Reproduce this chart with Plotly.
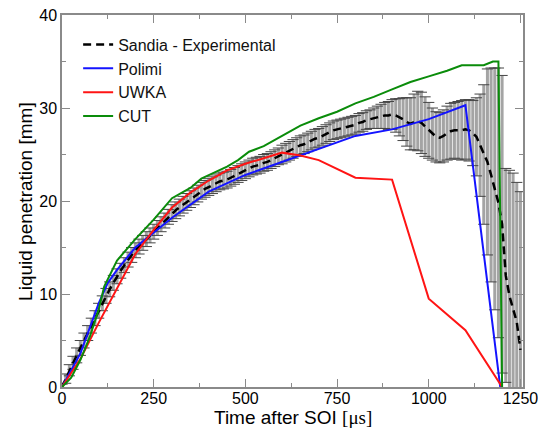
import plotly.graph_objects as go

# ---- Experimental (Sandia) ----
t_exp = [0, 10, 20, 30, 40, 50, 60, 70, 80, 90,
         100, 110, 120, 130, 140, 150, 160, 170, 180, 190,
         200, 210, 220, 230, 240, 250, 260, 270, 280, 290,
         300, 310, 320, 330, 340, 350, 360, 370, 380, 390,
         400, 410, 420, 430, 440, 450, 460, 470, 480, 490,
         500, 510, 520, 530, 540, 550, 560, 570, 580, 590,
         600, 610, 620, 630, 640, 650, 660, 670, 680, 690,
         700, 710, 720, 730, 740, 750, 760, 770, 780, 790,
         800, 810, 820, 830, 840, 850, 860, 870, 880, 890,
         900, 910, 920, 930, 940, 950, 960, 970, 980, 990,
         1000, 1010, 1020, 1030, 1040, 1050, 1060, 1070, 1080, 1090,
         1100, 1110, 1120, 1130, 1140, 1150, 1160, 1170, 1180, 1190,
         1200, 1210, 1220, 1230, 1240, 1250]
v_exp = [0.0, 0.9, 1.8, 2.6, 3.4, 4.2, 5.0, 5.8, 6.6, 7.4,
         8.2, 9.0, 9.8, 10.5, 11.2, 11.9, 12.5, 13.1, 13.7, 14.2,
         14.7, 15.1, 15.5, 15.9, 16.3, 16.7, 17.1, 17.5, 17.9, 18.3,
         18.7, 19.0, 19.3, 19.6, 19.9, 20.2, 20.5, 20.8, 21.1, 21.3,
         21.5, 21.7, 21.9, 22.1, 22.2, 22.3, 22.5, 22.7, 22.9, 23.1,
         23.3, 23.5, 23.7, 23.8, 23.9, 24.1, 24.2, 24.4, 24.6, 24.8,
         25.0, 25.2, 25.4, 25.6, 25.8, 26.0, 26.1, 26.3, 26.5, 26.7,
         26.8, 27.0, 27.2, 27.4, 27.6, 27.7, 27.8, 27.9, 28.0, 28.1,
         28.2, 28.4, 28.5, 28.7, 28.8, 28.9, 29.0, 29.1, 29.2, 29.2,
         29.3, 29.2, 29.0, 28.8, 28.5, 28.3, 28.5, 28.6, 28.4, 28.0,
         27.6, 27.2, 26.9, 26.8, 27.0, 27.3, 27.5, 27.6, 27.6, 27.6,
         27.7, 27.6, 27.3, 26.9, 26.0, 25.0, 24.2, 22.8, 21.3, 19.8,
         17.5, 12.0, 9.8, 8.5, 7.0, 4.0]
e_exp = [0.3, 0.5, 0.6, 0.7, 0.8, 0.8, 0.8, 0.8, 0.8, 0.8,
         0.8, 0.8, 0.8, 0.8, 0.8, 0.8, 0.8, 0.8, 0.8, 0.8,
         0.8, 0.8, 0.8, 0.8, 0.8, 0.8, 0.8, 0.8, 0.8, 0.8,
         0.9, 0.9, 0.9, 0.9, 0.9, 0.9, 0.9, 0.9, 0.9, 0.9,
         0.9, 0.9, 0.9, 0.9, 0.9, 0.9, 0.9, 0.9, 0.9, 0.9,
         0.9, 0.9, 0.9, 0.9, 0.9, 0.9, 0.9, 0.9, 0.9, 0.9,
         1.0, 1.0, 1.0, 1.0, 1.0, 1.0, 1.0, 1.0, 1.0, 1.0,
         1.0, 1.0, 1.0, 1.0, 1.0, 1.0, 1.0, 1.0, 1.0, 1.0,
         1.0, 1.0, 1.0, 1.0, 1.0, 1.1, 1.2, 1.3, 1.4, 1.5,
         1.6, 1.8, 2.0, 2.3, 2.6, 2.8, 3.0, 3.2, 3.3, 3.2,
         3.0, 2.8, 2.7, 2.7, 2.8, 2.9, 3.0, 3.0, 3.1, 3.2,
         3.2, 3.3, 3.5, 4.2, 5.5, 7.5, 10.0, 11.5, 13.0, 14.5,
         16.0, 11.5, 13.5, 14.5, 15.0, 17.0]

# ---- Polimi ----
t_polimi = [0, 50, 100, 125, 150, 200, 300, 400, 500, 600, 700, 800, 900, 1000, 1100, 1195]
v_polimi = [0.0, 3.6, 9.0, 11.2, 12.6, 15.0, 18.2, 21.0, 22.8, 24.2, 25.6, 27.0, 27.7, 28.8, 30.3, 0.0]

# ---- UWKA ----
t_uwka = [0, 50, 100, 150, 200, 250, 300, 350, 400, 450, 500, 550, 600, 650, 700, 800, 900, 1000, 1100, 1200]
v_uwka = [0.0, 3.0, 6.9, 10.6, 14.3, 16.9, 19.3, 20.9, 22.2, 23.3, 24.0, 24.6, 25.2, 24.9, 24.4, 22.5, 22.3, 9.5, 6.1, 0.0]

# ---- CUT ----
t_cut = [0, 25, 50, 75, 100, 115, 150, 200, 250, 300, 350, 380, 450, 480, 510, 550, 600, 650, 700,
         750, 800, 850, 900, 950, 1000, 1050, 1090, 1150, 1175, 1190, 1200]
v_cut = [0.0, 1.0, 2.9, 5.3, 8.3, 10.8, 13.6, 15.9, 18.0, 20.3, 21.4, 22.4, 23.7, 24.4, 25.3, 25.9, 27.0, 28.1, 28.9,
         29.6, 30.5, 31.2, 32.0, 32.8, 33.4, 34.0, 34.6, 34.6, 35.0, 35.0, 0.0]

x_ticks = [0, 250, 500, 750, 1000, 1250]
y_ticks = [0, 10, 20, 30, 40]

FONT = "Liberation Sans, Arial, sans-serif"

fig = go.Figure()

# error bars (gray stems)
fig.add_trace(go.Scatter(
    x=t_exp, y=v_exp, mode="markers", showlegend=False, hoverinfo="skip",
    marker=dict(size=0.1, opacity=0),
    error_y=dict(type="data", array=e_exp, visible=True, color="#a4a4a4", thickness=3, width=0),
))
# caps
upper = [v + e for v, e in zip(v_exp, e_exp)]
lower = [v - e for v, e in zip(v_exp, e_exp)]
fig.add_trace(go.Scatter(
    x=t_exp + t_exp, y=upper + lower, mode="markers", showlegend=False, hoverinfo="skip",
    marker=dict(symbol="line-ew", size=8, line=dict(color="#454545", width=1)),
))

fig.add_trace(go.Scatter(
    x=t_exp, y=v_exp, mode="lines", name="Sandia - Experimental",
    line=dict(color="black", width=2.5, dash="8px,5px"),
))
fig.add_trace(go.Scatter(
    x=t_polimi, y=v_polimi, mode="lines", name="Polimi",
    line=dict(color="rgb(20,20,255)", width=2),
))
fig.add_trace(go.Scatter(
    x=t_uwka, y=v_uwka, mode="lines", name="UWKA",
    line=dict(color="rgb(255,20,20)", width=2),
))
fig.add_trace(go.Scatter(
    x=t_cut, y=v_cut, mode="lines", name="CUT",
    line=dict(color="rgb(10,140,10)", width=2),
))

axis_common = dict(
    showline=True, linecolor="#8a8a8a", linewidth=1.5, mirror="ticks",
    ticks="inside", ticklen=8, tickwidth=1, tickcolor="#8a8a8a",
    showgrid=False, zeroline=False, automargin=False,
    ticklabeloverflow="allow",
    tickfont=dict(family=FONT, size=16, color="black"),
)

fig.update_layout(
    width=538, height=422,
    margin=dict(l=54, r=23, t=7, b=43),
    paper_bgcolor="white", plot_bgcolor="white",
    font=dict(family=FONT, color="black"),
    showlegend=True,
    legend=dict(
        x=0.035, y=0.966, xanchor="left", yanchor="top",
        bgcolor="rgba(0,0,0,0)", borderwidth=0,
        font=dict(family=FONT, size=16, color="#111"),
        tracegroupgap=0,
    ),
    xaxis=dict(
        range=[0, 1257], tickvals=x_ticks, ticktext=[str(v) for v in x_ticks],
        minor=dict(ticks="inside", ticklen=4, tickcolor="#8a8a8a", dtick=125, tick0=0),
        ticklabelstandoff=-4,
        **axis_common,
    ),
    yaxis=dict(
        range=[0, 40], tickvals=y_ticks, ticktext=[str(v) for v in y_ticks],
        minor=dict(ticks="inside", ticklen=4, tickcolor="#8a8a8a", dtick=5, tick0=0),
        **axis_common,
    ),
    annotations=[
        dict(text="Time after SOI <span style='font-family:Liberation Serif, serif'>[μs]</span>",
             xref="paper", yref="paper", x=0.5, y=-0.081, xanchor="center", yanchor="middle",
             showarrow=False, font=dict(family=FONT, size=19, color="black")),
        dict(text="Liquid penetration [mm]",
             xref="paper", yref="paper", x=-0.0805, y=0.5, xanchor="center", yanchor="middle",
             textangle=-90, showarrow=False, font=dict(family=FONT, size=19, color="black")),
    ],
)

fig.write_html("out.html")
